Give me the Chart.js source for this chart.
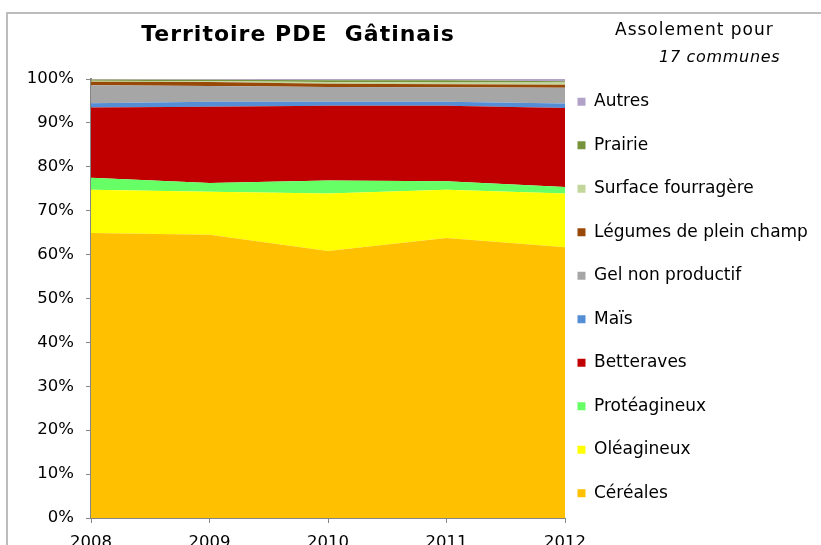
<!DOCTYPE html>
<html>
<head>
<meta charset="utf-8">
<script src="https://cdn.jsdelivr.net/npm/chart.js@4"></script>
<style>
  body { margin: 0; overflow: hidden; background: #fff; font-family: "DejaVu Sans", Verdana, sans-serif; }
  #wrap { position: relative; width: 821px; height: 560px; }
  #frame { position: absolute; left: 6px; top: 12px; width: 840px; height: 580px; border: 2px solid #bcbcbc; pointer-events: none; }
  .txt { position: absolute; white-space: pre; color: #000; }
  #title { left: 0; top: 21px; width: 596px; text-align: center; font-weight: bold; font-size: 22px; letter-spacing: 1px; }
  #sub1 { left: 615px; top: 19px; font-size: 17px; letter-spacing: 1px; }
  #sub2 { left: 659px; top: 47px; font-size: 16px; font-style: italic; letter-spacing: 0.7px; }
</style>
</head>
<body>
<div id="wrap">
  <canvas id="chart"></canvas>
  <div id="frame"></div>
  <div class="txt" id="title">Territoire PDE  Gâtinais</div>
  <div class="txt" id="sub1">Assolement pour</div>
  <div class="txt" id="sub2">17 communes</div>
</div>
<script>
const years = ["2008", "2009", "2010", "2011", "2012"];
const cereales = [64.9, 64.5, 60.8, 63.8, 61.7];
const oleagineux = [9.9, 9.8, 13.1, 11.0, 12.2];
const proteagineux = [2.7, 2.0, 3.0, 1.9, 1.5];
const betteraves = [16.0, 17.4, 17.0, 17.2, 18.0];
const mais = [1.0, 1.1, 0.9, 0.9, 1.0];
const gel = [4.1, 3.6, 3.4, 3.3, 3.6];
const legumes = [0.8, 0.9, 0.7, 0.7, 0.7];
const fourrage = [0.2, 0.2, 0.4, 0.4, 0.5];
const prairie = [0.3, 0.35, 0.4, 0.5, 0.3];
const autres = [0.1, 0.15, 0.3, 0.3, 0.5];
const yTicks = [0, 10, 20, 30, 40, 50, 60, 70, 80, 90, 100];

const series = [
  ["Céréales", cereales, "#FFC000"],
  ["Oléagineux", oleagineux, "#FFFF00"],
  ["Protéagineux", proteagineux, "#66FF66"],
  ["Betteraves", betteraves, "#C00000"],
  ["Maïs", mais, "#558ED5"],
  ["Gel non productif", gel, "#A6A6A6"],
  ["Légumes de plein champ", legumes, "#984807"],
  ["Surface fourragère", fourrage, "#C3D69B"],
  ["Prairie", prairie, "#77933C"],
  ["Autres", autres, "#B3A2C7"]
];

// legend sits a bit left of / above where chart.js puts it, with wide row spacing
const legendFix = {
  id: "legendFix",
  afterInit(chart) {
    const lg = chart.legend;
    const fit = lg.fit.bind(lg);
    lg.fit = function () { fit(); this.width = 256; };
  },
  afterLayout(chart) {
    chart.legend.left -= 14;
    chart.legend.right -= 14;
    chart.legend.top -= 22;
    chart.legend.bottom -= 22;
  }
};

const ctx = document.getElementById("chart");
const myChart = new Chart(ctx, {
  type: "line",
  data: {
    labels: years,
    datasets: series.map((s, i) => ({
      label: s[0],
      data: s[1],
      backgroundColor: s[2],
      borderColor: s[2],
      borderWidth: 0,
      pointRadius: 0,
      tension: 0,
      fill: i === 0 ? "origin" : "-1"
    }))
  },
  options: {
    responsive: true,
    maintainAspectRatio: false,
    animation: false,
    layout: { padding: { top: 79, left: 0, right: 0, bottom: 0 } },
    scales: {
      x: {
        grid: { drawOnChartArea: false, tickLength: 5, color: "#868686" },
        border: { color: "#868686", width: 1 },
        ticks: { color: "#000", padding: 10, font: { family: "DejaVu Sans", size: 16.5 } },
        afterFit(scale) { scale.height = 42; }
      },
      y: {
        stacked: true,
        min: 0,
        max: 100,
        afterBuildTicks(scale) { scale.ticks = yTicks.map(v => ({ value: v })); },
        grid: { drawOnChartArea: false, tickLength: 5, color: "#868686" },
        border: { color: "#868686", width: 2 },
        ticks: {
          color: "#000",
          padding: 12,
          font: { family: "DejaVu Sans", size: 16.5 },
          callback: v => v + "%"
        },
        afterFit(scale) { scale.width = 91; }
      }
    },
    plugins: {
      legend: {
        position: "right",
        reverse: true,
        labels: {
          boxWidth: 8,
          boxHeight: 8,
          padding: 26.5,
          color: "#000",
          font: { family: "DejaVu Sans", size: 17 }
        }
      },
      tooltip: { enabled: false }
    }
  },
  plugins: [legendFix]
});
</script>
</body>
</html>
